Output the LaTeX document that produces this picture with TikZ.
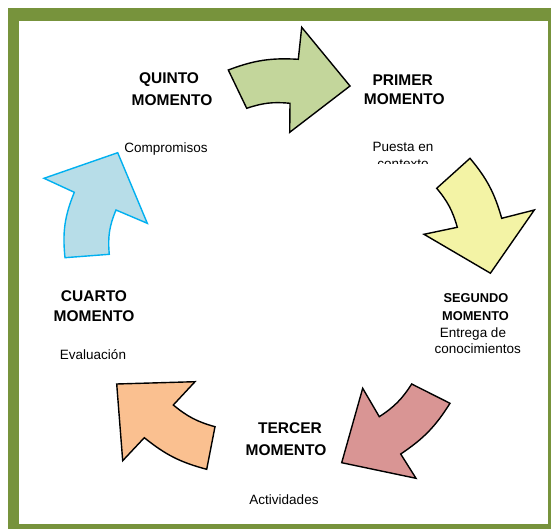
\documentclass[tikz,border=0pt]{standalone}
\usepackage{fontspec}
\setmainfont{Liberation Sans}
\definecolor{framegreen}{HTML}{77933C}
\definecolor{fgreen}{HTML}{C3D69B}
\definecolor{fyellow}{HTML}{F3F3A5}
\definecolor{fred}{HTML}{D99594}
\definecolor{forange}{HTML}{FAC090}
\definecolor{fblue}{HTML}{B7DDE8}
\definecolor{lblue}{HTML}{00B0F0}
\begin{document}
\begin{tikzpicture}[x=1pt,y=-1pt,
  arrowshape/.style={draw=black,line width=1.4pt,line join=miter},
  boldlbl/.style={inner sep=0pt,anchor=base,font=\fontsize{15.5}{18}\selectfont\bfseries},
  smallbold/.style={inner sep=0pt,anchor=base,font=\fontsize{12.8}{15}\selectfont\bfseries},
  txt/.style={inner sep=0pt,anchor=base,font=\fontsize{13.5}{16}\selectfont}]
\useasboundingbox (0,0) rectangle (551,529);
\fill[framegreen] (8,8) rectangle (551,529);
\fill[white] (19,21) rectangle (548,524);
% green arrow
\draw[arrowshape,fill=fgreen] (228.3,70) to[bend left=12] (298.3,59.3) -- (301.7,27.3) -- (350,86)
  -- (289.7,132.3) -- (290,103.3) to[bend right=12] (246.7,108.3) -- cycle;
% yellow arrow
\draw[arrowshape,fill=fyellow] (436.7,188.3) -- (470,158.3) to[bend left=12] (501.7,218.3)
  -- (534.3,210) -- (490.4,273.2) -- (424,234.3) -- (457.3,227.3) to[bend right=12] cycle;
% red arrow
\draw[arrowshape,fill=fred] (411.7,384) -- (450,403.3) to[bend left=12] (400.7,454)
  -- (416,478.3) -- (341.7,462.7) -- (362.7,388.3) -- (379.3,416.7) to[bend right=12] cycle;
% orange arrow
\draw[arrowshape,fill=forange] (116.7,384) -- (195,381.7) -- (173.3,405) to[bend right=12] (215,426.7)
  -- (206.7,469.3) to[bend left=12] (144.3,437.7) -- (122.7,460.7) -- cycle;
% blue arrow
\draw[arrowshape,draw=lblue,fill=fblue] (117.7,152.7) -- (147.3,223.3) -- (116,210) to[bend right=14] (109.3,254.3)
  -- (65,257.7) to[bend left=14] (74.3,192.3) -- (44,178.3) -- cycle;
% labels
\node[boldlbl] (q1) at (169,83.5) {QUINTO};
\node[boldlbl] (q2) at (172,105.5) {MOMENTO};
\node[txt] (q3) at (166,152.8) {Compromisos};
\node[boldlbl] (p1) at (402.7,85.5) {PRIMER};
\node[boldlbl] (p2) at (404.3,104.8) {MOMENTO};
\node[txt] (p3) at (403,152) {Puesta en};
\begin{scope}
\clip (340,120) rectangle (470,164);
\node[txt] (p4) at (403,168.5) {contexto};
\end{scope}
\node[smallbold] (s1) at (476,302.6) {SEGUNDO};
\node[smallbold] (s2) at (475.5,320.6) {MOMENTO};
\node[txt] (s3) at (473,337.8) {Entrega de};
\node[txt] (s4) at (477.7,353.8) {conocimientos};
\node[boldlbl] (c1) at (94,301.5) {CUARTO};
\node[boldlbl] (c2) at (94,321.5) {MOMENTO};
\node[txt] (c3) at (93,359.8) {Evaluación};
\node[boldlbl] (t1) at (290,433.5) {TERCER};
\node[boldlbl] (t2) at (286,455.5) {MOMENTO};
\node[txt] (t3) at (284,504.8) {Actividades};
\end{tikzpicture}
\end{document}
